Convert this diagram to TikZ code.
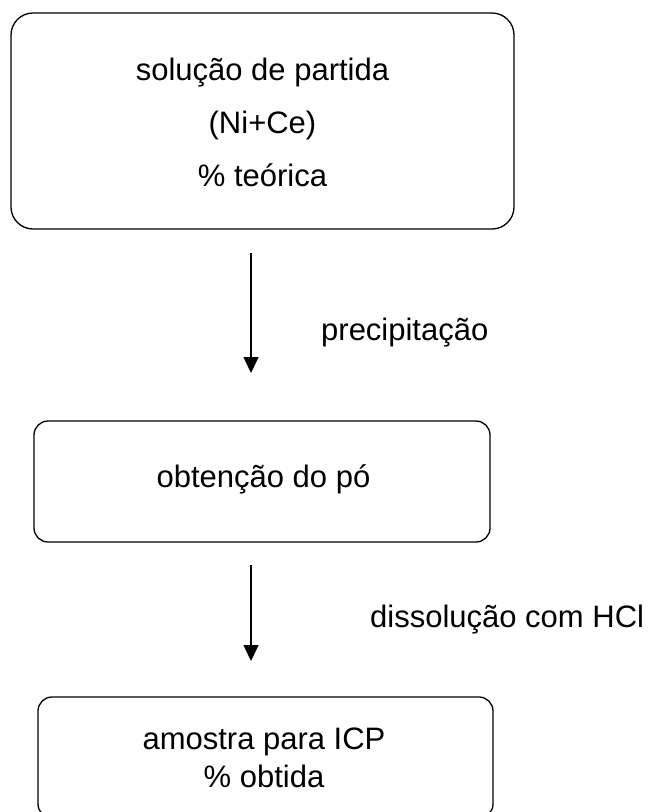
\documentclass[tikz,border=0pt]{standalone}
\usepackage{fontspec}
\setmainfont{Liberation Sans}
\usetikzlibrary{arrows.meta}
\begin{document}
\begin{tikzpicture}[x=1pt,y=-1pt,
  stepbox/.style={draw, line width=1.3pt, inner sep=0pt},
  txt/.style={anchor=base, inner sep=0pt, font=\fontsize{31}{37}\selectfont},
  lbl/.style={anchor=base west, inner sep=0pt, font=\fontsize{31}{37}\selectfont},
  flow/.style={line width=1.3pt, -{Triangle[length=16pt,width=15pt]}}]
\useasboundingbox (0,0) rectangle (655,812);
\clip (0,0) rectangle (655,812);
% boxes
\node[stepbox, rounded corners=22pt, minimum width=503pt, minimum height=216pt] (b1) at (262.5,121) {};
\node[stepbox, rounded corners=14pt, minimum width=456pt, minimum height=121pt] (b2) at (262,481.5) {};
\node[stepbox, rounded corners=14pt, minimum width=455pt, minimum height=121pt] (b3) at (265.5,757.5) {};
% texts
\node[txt] (t1a) at (262.5,80) {solução de partida};
\node[txt] (t1b) at (262.5,133) {(Ni+Ce)};
\node[txt] (t1c) at (262.5,186) {\% teórica};
\node[txt] (t2) at (263.5,487) {obtenção do pó};
\node[txt] (t3a) at (264,749) {amostra para ICP};
\node[txt] (t3b) at (264,787) {\% obtida};
% arrows
\coordinate (a1s) at (251,253);
\coordinate (a1e) at (251,373);
\coordinate (a2s) at (251,565);
\coordinate (a2e) at (251,661);
\draw[flow] (a1s) -- (a1e);
\draw[flow] (a2s) -- (a2e);
\node[lbl] (l1) at (321,340) {precipitação};
\node[lbl] (l2) at (370,627) {dissolução com HCl};
\end{tikzpicture}
\end{document}
